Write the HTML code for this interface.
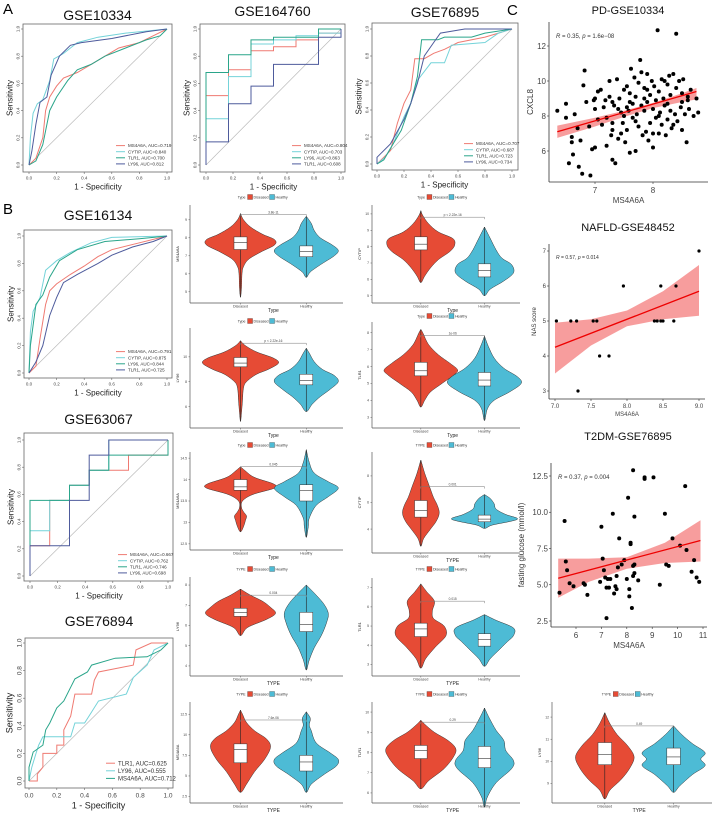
<!DOCTYPE html>
<html><head><meta charset="utf-8">
<style>
html,body{margin:0;padding:0;background:#fff;}
svg{display:block;font-family:"Liberation Sans",Arial,sans-serif;}
</style></head>
<body>
<svg id="fig" width="719" height="818" viewBox="0 0 719 818" xmlns="http://www.w3.org/2000/svg">
<text x="3" y="14" font-size="15">A</text>
<text x="3" y="214" font-size="15">B</text>
<text x="507" y="15" font-size="15">C</text>
</svg>
<script>
// ===== ROC data ([fpr, tpr] pairs) =====
const roc10334_MS4A6A=[[0,0],[0.02,0.02],[0.05,0.05],[0.1,0.2],[0.12,0.4],[0.15,0.5],[0.2,0.58],[0.25,0.64],[0.35,0.68],[0.45,0.74],[0.55,0.8],[0.65,0.86],[0.8,0.9],[0.9,0.95],[1,1]];
const roc10334_CYTIP=[[0,0],[0.01,0.2],[0.03,0.38],[0.06,0.45],[0.1,0.48],[0.15,0.62],[0.18,0.78],[0.25,0.82],[0.35,0.9],[0.5,0.94],[0.7,0.97],[1,1]];
const roc10334_TLR1=[[0,0],[0.05,0.03],[0.1,0.15],[0.15,0.4],[0.2,0.5],[0.28,0.62],[0.35,0.7],[0.45,0.74],[0.55,0.8],[0.7,0.86],[0.85,0.92],[0.95,0.95],[1,1]];
const roc10334_LY96=[[0,0],[0.02,0.1],[0.05,0.3],[0.08,0.46],[0.13,0.5],[0.16,0.66],[0.22,0.8],[0.3,0.88],[0.38,0.9],[0.6,0.93],[0.85,0.98],[1,1]];
const roc164760_MS4A6A=[[0,0],[0,0.51],[0.167,0.51],[0.167,0.7],[0.333,0.7],[0.333,0.84],[0.5,0.84],[0.5,0.87],[0.667,0.87],[0.667,0.92],[0.833,0.92],[0.833,0.97],[1,0.97],[1,1]];
const roc164760_CYTIP=[[0,0],[0,0.34],[0.167,0.34],[0.167,0.65],[0.333,0.65],[0.333,0.89],[0.5,0.89],[0.5,0.92],[0.667,0.92],[0.667,0.95],[0.833,0.95],[0.833,0.97],[1,0.97],[1,1]];
const roc164760_LY96=[[0,0],[0,0.68],[0.167,0.68],[0.167,0.81],[0.333,0.81],[0.333,0.92],[0.5,0.92],[0.5,0.94],[0.833,0.94],[0.833,1],[1,1]];
const roc164760_TLR1=[[0,0],[0,0.17],[0.167,0.17],[0.167,0.45],[0.333,0.45],[0.333,0.58],[0.5,0.58],[0.5,0.74],[0.833,0.74],[0.833,0.94],[1,0.94],[1,1]];
const roc76895_MS4A6A=[[0,0],[0.05,0.05],[0.1,0.1],[0.15,0.3],[0.2,0.45],[0.25,0.55],[0.28,0.78],[0.35,0.78],[0.42,0.82],[0.5,0.85],[0.6,0.9],[0.8,0.94],[0.9,0.97],[1,1]];
const roc76895_CYTIP=[[0,0],[0.06,0.05],[0.12,0.15],[0.2,0.35],[0.25,0.45],[0.3,0.62],[0.4,0.75],[0.5,0.75],[0.55,0.88],[0.8,0.9],[0.9,0.97],[1,1]];
const roc76895_TLR1=[[0,0],[0.05,0.03],[0.12,0.15],[0.18,0.25],[0.25,0.45],[0.3,0.65],[0.33,0.92],[0.45,0.92],[0.5,0.94],[0.7,0.94],[0.8,0.97],[1,1]];
const roc76895_LY96=[[0,0],[0,0.05],[0.1,0.15],[0.2,0.33],[0.25,0.45],[0.3,0.6],[0.35,0.8],[0.42,0.9],[0.47,0.97],[0.65,1],[1,1]];
const roc16134_MS4A6A=[[0,0],[0.05,0.05],[0.08,0.25],[0.12,0.5],[0.15,0.6],[0.2,0.65],[0.3,0.72],[0.4,0.78],[0.5,0.85],[0.6,0.9],[0.8,0.95],[1,1]];
const roc16134_CYTIP=[[0,0],[0.01,0.3],[0.03,0.45],[0.08,0.55],[0.12,0.75],[0.2,0.82],[0.3,0.88],[0.45,0.95],[0.6,0.99],[1,1]];
const roc16134_LY96=[[0,0],[0.01,0.2],[0.05,0.5],[0.1,0.57],[0.15,0.7],[0.22,0.82],[0.35,0.9],[0.55,0.96],[0.8,0.98],[1,1]];
const roc16134_TLR1=[[0,0],[0.05,0.08],[0.1,0.2],[0.15,0.42],[0.2,0.55],[0.25,0.66],[0.35,0.72],[0.5,0.8],[0.6,0.86],[0.75,0.92],[0.9,0.96],[1,1]];
const roc63067_MS4A6A=[[0,0],[0,0.222],[0.143,0.222],[0.143,0.556],[0.286,0.556],[0.286,0.667],[0.429,0.667],[0.429,0.778],[0.714,0.778],[0.714,0.889],[1,0.889],[1,1]];
const roc63067_CYTIP=[[0,0],[0,0.333],[0.143,0.333],[0.143,0.556],[0.286,0.556],[0.286,0.667],[0.429,0.667],[0.429,0.778],[0.571,0.778],[0.571,1],[1,1]];
const roc63067_TLR1=[[0,0],[0,0.556],[0.286,0.556],[0.286,0.667],[0.429,0.667],[0.429,0.778],[0.571,0.778],[0.571,0.889],[1,0.889],[1,1]];
const roc63067_LY96=[[0,0],[0,0.222],[0.286,0.222],[0.286,0.556],[0.429,0.556],[0.429,0.889],[0.571,0.889],[0.571,1],[1,1]];
const roc76894_TLR1=[[0,0],[0.06,0],[0.06,0.05],[0.1,0.1],[0.1,0.2],[0.2,0.2],[0.2,0.26],[0.25,0.26],[0.25,0.37],[0.3,0.47],[0.33,0.63],[0.45,0.63],[0.47,0.73],[0.5,0.79],[0.75,0.84],[0.77,0.95],[0.88,1],[1,1]];
const roc76894_LY96=[[0,0],[0.02,0.1],[0.05,0.2],[0.07,0.26],[0.1,0.32],[0.3,0.32],[0.33,0.42],[0.4,0.42],[0.45,0.5],[0.5,0.58],[0.7,0.63],[0.75,0.75],[0.85,0.84],[0.9,0.95],[1,1]];
const roc76894_MS4A6A=[[0,0],[0,0.1],[0.03,0.21],[0.1,0.26],[0.12,0.37],[0.15,0.42],[0.2,0.53],[0.25,0.58],[0.3,0.68],[0.33,0.74],[0.42,0.79],[0.45,0.84],[0.62,0.89],[0.85,0.9],[0.95,0.95],[1,1]];
const rocTicks=[0,0.2,0.4,0.6,0.8,1.0];
const rocTickLabels=["0.0","0.2","0.4","0.6","0.8","1.0"];

// ===== Violin data: knots [value, halfwidth], box [wlo,q1,med,q3,whi] =====
const v1D=[[4.7,0],[5.2,1],[6.0,1.5],[6.4,3],[6.8,8],[7.2,20],[7.6,34],[7.9,34],[8.2,22],[8.6,10],[9.0,3],[9.35,0]];
const v1Dbox=[6.4,7.35,7.75,8.05,9.2];
const v1H=[[5.8,0],[6.1,4],[6.5,14],[7.0,28],[7.3,32],[7.6,26],[8.0,14],[8.4,8],[8.8,5],[9.2,0]];
const v1Hbox=[6.0,6.95,7.25,7.55,9.0];
const v2D=[[5.8,0],[6.2,4],[6.7,10],[7.2,18],[7.7,30],[8.1,35],[8.5,33],[8.9,18],[9.4,8],[9.9,2],[10.2,0]];
const v2Dbox=[6.1,7.8,8.15,8.6,9.9];
const v2H=[[5.0,0],[5.4,6],[5.9,20],[6.4,30],[6.9,28],[7.3,18],[7.8,12],[8.5,6],[9.2,0]];
const v2Hbox=[5.6,6.15,6.55,6.95,8.6];
const v3D=[[4.8,0],[5.5,1],[6.5,2],[7.5,3],[8.0,6],[8.6,16],[9.0,28],[9.5,38],[9.9,33],[10.4,16],[10.9,5],[11.3,0]];
const v3Dbox=[7.6,9.2,9.5,9.95,11.0];
const v3H=[[5.6,0],[6.2,6],[6.8,14],[7.4,24],[8.0,32],[8.5,28],[9.0,16],[9.6,8],[10.3,3],[10.7,0]];
const v3Hbox=[6.4,7.75,8.1,8.6,10.3];
const v4D=[[3.6,0],[4.0,4],[4.5,10],[5.0,22],[5.5,34],[5.8,38],[6.2,30],[6.7,18],[7.3,8],[8.0,2],[8.2,0]];
const v4Dbox=[4.4,5.45,5.75,6.25,7.8];
const v4H=[[2.8,0],[3.5,3],[4.0,10],[4.5,26],[5.0,38],[5.4,34],[5.9,20],[6.5,10],[7.2,4],[7.8,0]];
const v4Hbox=[3.6,4.85,5.2,5.65,7.2];
const v5D=[[12.78,0],[12.9,3],[13.05,5],[13.15,6],[13.25,3],[13.35,1],[13.5,2],[13.65,12],[13.8,34],[13.9,33],[14.05,14],[14.2,5],[14.3,0]];
const v5Dbox=[13.6,13.75,13.83,14.0,14.2];
const v5H=[[12.65,0],[12.9,2],[13.1,3],[13.4,10],[13.6,22],[13.8,32],[13.95,22],[14.15,8],[14.4,3],[14.7,0]];
const v5Hbox=[13.2,13.5,13.75,13.88,14.3];
const v6D=[[2.7,0],[3.3,3],[4.0,10],[4.6,16],[5.2,19],[5.8,17],[6.4,13],[7.2,9],[8.2,4],[9.2,0]];
const v6Dbox=[4.3,4.9,5.4,6.15,7.6];
const v6H=[[4.05,0],[4.3,8],[4.6,28],[4.8,34],[5.1,22],[5.5,12],[5.9,10],[6.3,6],[6.6,0]];
const v6Hbox=[4.1,4.55,4.75,5.05,6.0];
const v7D=[[5.5,0],[5.9,7],[6.3,26],[6.6,35],[6.9,30],[7.2,22],[7.5,10],[7.8,0]];
const v7Dbox=[5.9,6.45,6.65,6.85,7.5];
const v7H=[[3.8,0],[4.3,3],[4.9,8],[5.5,15],[6.1,20],[6.6,22],[7.1,17],[7.6,8],[8.0,0]];
const v7Hbox=[5.0,5.7,6.05,6.65,6.9];
const v8D=[[2.8,0],[3.3,5],[3.9,15],[4.5,26],[5.0,24],[5.4,13],[5.8,12],[6.3,14],[6.8,6],[7.2,0]];
const v8Dbox=[3.7,4.45,4.85,5.15,6.3];
const v8H=[[2.9,0],[3.3,6],[3.8,16],[4.2,24],[4.5,30],[4.9,30],[5.3,12],[5.6,0]];
const v8Hbox=[3.7,3.95,4.3,4.6,4.85];
const v9D=[[3.0,0],[4.0,6],[5.5,14],[7.0,24],[8.5,30],[9.5,26],[10.5,14],[11.5,6],[12.5,2],[13.0,0]];
const v9Dbox=[4.2,6.6,8.2,8.9,12.2];
const v9H=[[3.0,0],[4.0,5],[5.2,18],[6.2,30],[7.0,32],[7.8,24],[9.0,10],[10.5,5],[11.2,3],[12.0,4],[12.8,0]];
const v9Hbox=[4.5,5.6,6.7,7.5,12.5];
const v10D=[[6.2,0],[6.6,8],[7.2,24],[7.8,34],[8.2,36],[8.6,28],[9.0,14],[9.4,4],[9.6,0]];
const v10Dbox=[6.9,7.7,8.1,8.35,8.9];
const v10H=[[5.3,0],[5.8,3],[6.5,12],[7.2,28],[7.6,30],[8.1,22],[8.6,20],[9.1,12],[9.7,5],[10.2,0]];
const v10Hbox=[6.1,7.25,7.7,8.3,9.4];
const v11D=[[8.3,0],[8.7,5],[9.2,16],[9.7,24],[10.2,28],[10.7,22],[11.2,12],[11.7,5],[12.2,0]];
const v11Dbox=[8.9,9.85,10.3,10.85,11.6];
const v11H=[[8.6,0],[8.9,6],[9.4,18],[9.8,30],[10.1,26],[10.4,30],[10.8,18],[11.2,8],[11.6,0]];
const v11Hbox=[9.0,9.85,10.2,10.6,11.4];

// ===== Scatter data =====
const pdPoints=[[6.35,8.3],[6.5,8.7],[6.5,7.9],[6.55,5.3],[6.6,6.8],[6.6,6.5],[6.62,5.8],[6.65,8.1],[6.72,5.1],[6.75,6.6],[6.78,4.7],[6.8,9.75],[6.82,10.6],[6.85,8.8],[6.9,7.4],[6.92,4.6],[6.95,6.1],[6.98,8.9],[7.0,9.0],[7.0,6.2],[7.05,7.8],[7.05,9.4],[7.1,9.5],[7.12,7.5],[7.15,8.5],[7.18,8.9],[7.2,7.9],[7.2,6.3],[7.25,10.0],[7.25,9.1],[7.28,6.9],[7.3,5.5],[7.3,7.2],[7.33,8.6],[7.35,5.3],[7.38,10.1],[7.4,8.4],[7.4,6.7],[7.42,9.0],[7.45,8.2],[7.48,7.6],[7.5,9.5],[7.5,8.0],[7.52,6.5],[7.55,9.7],[7.55,7.2],[7.58,8.3],[7.6,9.3],[7.6,5.9],[7.62,10.7],[7.65,7.9],[7.65,8.7],[7.68,10.2],[7.7,6.0],[7.7,9.1],[7.72,8.1],[7.75,9.9],[7.75,7.4],[7.78,11.2],[7.8,8.6],[7.8,10.5],[7.82,6.9],[7.85,9.6],[7.85,8.3],[7.88,7.1],[7.9,10.4],[7.9,8.8],[7.92,6.6],[7.95,9.2],[7.95,7.6],[7.98,10.0],[8.0,8.4],[8.0,6.2],[8.02,9.7],[8.05,7.9],[8.05,8.9],[8.08,12.9],[8.1,7.0],[8.1,9.4],[8.12,8.2],[8.15,10.1],[8.15,7.5],[8.18,9.0],[8.2,8.6],[8.22,6.9],[8.25,9.8],[8.25,7.8],[8.28,10.3],[8.3,8.3],[8.3,9.2],[8.32,7.3],[8.35,10.4],[8.38,8.1],[8.4,12.7],[8.4,9.6],[8.42,7.7],[8.45,10.0],[8.48,8.5],[8.5,9.3],[8.5,7.2],[8.52,10.1],[8.55,8.1],[8.58,6.5],[8.6,9.1],[8.62,8.4],[8.65,9.5],[8.7,8.0],[8.75,9.0],[8.78,8.2],[8.5,8.8],[8.2,10.0],[7.9,9.5],[7.6,8.8],[7.3,8.8],[7.0,8.4],[6.7,7.3],[8.0,7.0],[8.35,7.5],[7.45,7.0],[7.7,7.7],[8.1,8.0],[7.85,9.0],[8.6,8.9],[7.3,7.6],[7.55,8.5],[8.25,8.7]];
const pdFitX=[6.35,8.75], pdFitY=[7.1,9.4];
const pdBandX=[6.35,7,7.5,8,8.5,8.75], pdBandLo=[6.75,7.4,7.95,8.45,8.8,8.95], pdBandHi=[7.45,7.9,8.3,8.75,9.3,9.6];
const pdXTicks=[7,8], pdYTicks=[6,8,10,12];
const naPoints=[[7.02,5],[7.22,5],[7.3,5],[7.53,5],[7.58,5],[7.62,4],[7.75,4],[7.32,3],[7.95,6],[8.38,5],[8.42,5],[8.47,5],[8.5,5],[8.47,6],[8.65,5],[8.68,6],[9.0,7]];
const naFitX=[7.0,9.0], naFitY=[4.25,5.85];
const naBandX=[7.0,7.5,8.0,8.5,9.0], naBandLo=[3.5,4.3,4.85,5.05,5.15], naBandHi=[4.95,5.05,5.3,5.85,6.6];
const naXTicks=[7.0,7.5,8.0,8.5,9.0], naYTicks=[3,4,5,6,7];
const t2Points=[[5.35,4.45],[5.55,9.4],[5.6,6.6],[5.65,6.0],[5.75,5.1],[5.9,4.9],[6.3,5.1],[6.35,5.0],[6.45,4.3],[7.0,9.0],[7.05,6.8],[7.1,6.0],[6.95,5.2],[7.15,5.5],[7.2,4.8],[7.25,5.4],[7.3,4.8],[7.35,5.4],[7.45,9.9],[7.5,4.4],[7.55,4.9],[7.6,4.7],[7.7,8.2],[7.65,6.2],[7.6,5.6],[7.8,6.4],[7.9,6.7],[8.0,5.4],[8.05,11.0],[8.1,4.2],[8.1,4.7],[8.15,7.9],[8.15,7.8],[8.2,3.4],[8.25,5.6],[8.25,6.3],[8.3,5.8],[8.25,12.9],[8.3,9.7],[8.3,6.4],[8.45,5.3],[8.7,12.4],[8.7,12.3],[9.05,12.4],[7.2,2.7],[9.3,5.0],[9.55,6.4],[9.65,6.3],[9.5,9.9],[9.8,8.2],[10.1,7.7],[10.3,11.8],[10.35,7.4],[10.55,5.9],[10.65,6.7],[10.75,5.5],[10.85,5.2]];
const t2FitX=[5.3,10.9], t2FitY=[5.45,8.05];
const t2BandX=[5.3,6.5,8,9.5,10.9], t2BandLo=[4.1,5.2,6.1,6.5,6.6], t2BandHi=[6.8,6.8,6.9,7.9,9.45];
const t2XTicks=[6,7,8,9,10,11], t2YTicks=[2.5,5.0,7.5,10.0,12.5];

const NS="http://www.w3.org/2000/svg";
const svg=document.getElementById('fig');
function mk(tag,attrs,parent){const e=document.createElementNS(NS,tag);for(const k in attrs)e.setAttribute(k,attrs[k]);(parent||svg).appendChild(e);return e;}
function txt(x,y,s,size,opts,parent){const e=mk('text',Object.assign({x:x,y:y,'font-size':size,fill:'#222'},opts||{}),parent);e.textContent=s;return e;}
const RED="#e64b35", CYAN="#4dbbd5";
const cMS="#ef7a72", cCY="#74d3d9", cGR="#2aa58a", cNV="#4e5b9c";

// ---------- ROC ----------
function roc(c){
  const g=mk('g',{});
  
  
  const sx=v=>c.px0+v*(c.px1-c.px0), sy=v=>c.py0+v*(c.py1-c.py0);
  const t=txt((c.bx0+c.bx1)/2,c.ty,c.title,c.tsize||14,{'text-anchor':'middle',fill:'#111'},g);
  
  
  const fr=mk('rect',{x:c.bx0,y:c.by0,width:c.bx1-c.bx0,height:c.by1-c.by0,fill:'none',stroke:'#666','stroke-width':0.8},g);
  
  
  mk('line',{x1:sx(0),y1:sy(0),x2:sx(1),y2:sy(1),stroke:'#bbb','stroke-width':0.7},g);
  const fs=c.fs||4.5;
  rocTicks.forEach((v,i)=>{
    mk('line',{x1:sx(v),x2:sx(v),y1:c.by1,y2:c.by1+2,stroke:'#666','stroke-width':0.6},g);
    txt(sx(v),c.by1+3+fs,rocTickLabels[i],fs,{'text-anchor':'middle',fill:'#444'},g);
    mk('line',{x1:c.bx0,x2:c.bx0-2,y1:sy(v),y2:sy(v),stroke:'#666','stroke-width':0.6},g);
    txt(0,0,rocTickLabels[i],fs,{'text-anchor':'middle',fill:'#444',transform:`translate(${c.bx0-3.5},${sy(v)}) rotate(-90)`},g);
  });
  const xl=txt((sx(0)+sx(1))/2,c.by1+5+fs+(c.axs||8),'1 -  Specificity',c.axs||8,{'text-anchor':'middle'},g);
  
  
  const yl=txt(0,0,'Sensitivity',c.axs||8,{'text-anchor':'middle',transform:`translate(${c.bx0-6-fs},${(c.by0+c.by1)/2}) rotate(-90)`},g);
  
  
  const lf=c.lfs||4.5, lh=lf+1.6;
  c.curves.forEach((cv,i)=>{
    const d=cv.pts.map((p,j)=>(j?'L':'M')+sx(p[0]).toFixed(1)+','+sy(p[1]).toFixed(1)).join('');
    const p=mk('path',{d:d,fill:'none',stroke:cv.col,'stroke-width':1},g);
    
    
    const ly=c.by1-(c.curves.length-i)*lh-2;
    mk('line',{x1:c.lx,x2:c.lx+9,y1:ly,y2:ly,stroke:cv.col,'stroke-width':1},g);
    const lt=txt(c.lx+12,ly+lf*0.35,cv.gene+', AUC='+cv.auc,lf,{fill:'#333'},g);
    
    
  });
}
roc({name:'roc-gse10334',title:'GSE10334',ty:20,bx0:23,bx1:172,by0:24,by1:172,px0:29,px1:167,py0:165,py1:29,lx:116,
  curves:[{gene:'MS4A6A',auc:'0.719',col:cMS,pts:roc10334_MS4A6A},{gene:'CYTIP',auc:'0.840',col:cCY,pts:roc10334_CYTIP},{gene:'TLR1',auc:'0.700',col:cGR,pts:roc10334_TLR1},{gene:'LY96',auc:'0.812',col:cNV,pts:roc10334_LY96}]});
roc({name:'roc-gse164760',title:'GSE164760',ty:16,bx0:200,bx1:345,by0:24,by1:172,px0:206,px1:341,py0:165,py1:29,lx:292,
  curves:[{gene:'MS4A6A',auc:'0.804',col:cMS,pts:roc164760_MS4A6A},{gene:'CYTIP',auc:'0.703',col:cCY,pts:roc164760_CYTIP},{gene:'LY96',auc:'0.863',col:cGR,pts:roc164760_LY96},{gene:'TLR1',auc:'0.608',col:cNV,pts:roc164760_TLR1}]});
roc({name:'roc-gse76895',title:'GSE76895',ty:17,bx0:372,bx1:518,by0:23,by1:170,px0:377,px1:512,py0:164,py1:29,lx:464,
  curves:[{gene:'MS4A6A',auc:'0.707',col:cMS,pts:roc76895_MS4A6A},{gene:'CYTIP',auc:'0.687',col:cCY,pts:roc76895_CYTIP},{gene:'TLR1',auc:'0.723',col:cGR,pts:roc76895_TLR1},{gene:'LY96',auc:'0.734',col:cNV,pts:roc76895_LY96}]});
roc({name:'roc-gse16134',title:'GSE16134',ty:220,bx0:24,bx1:172,by0:230,by1:378,px0:29,px1:167,py0:373,py1:236,lx:116,
  curves:[{gene:'MS4A6A',auc:'0.791',col:cMS,pts:roc16134_MS4A6A},{gene:'CYTIP',auc:'0.875',col:cCY,pts:roc16134_CYTIP},{gene:'LY96',auc:'0.844',col:cGR,pts:roc16134_LY96},{gene:'TLR1',auc:'0.725',col:cNV,pts:roc16134_TLR1}]});
roc({name:'roc-gse63067',title:'GSE63067',ty:424,bx0:24,bx1:173,by0:433,by1:581,px0:30,px1:168,py0:576,py1:440,lx:118,
  curves:[{gene:'MS4A6A',auc:'0.667',col:cMS,pts:roc63067_MS4A6A},{gene:'CYTIP',auc:'0.762',col:cCY,pts:roc63067_CYTIP},{gene:'TLR1',auc:'0.746',col:cGR,pts:roc63067_TLR1},{gene:'LY96',auc:'0.698',col:cNV,pts:roc63067_LY96}]});
roc({name:'roc-gse76894',title:'GSE76894',ty:626,bx0:25,bx1:173,by0:638,by1:788,px0:29,px1:168,py0:781,py1:643,lx:106,fs:6.5,axs:9,lfs:6,
  curves:[{gene:'TLR1',auc:'0.625',col:cMS,pts:roc76894_TLR1},{gene:'LY96',auc:'0.555',col:cCY,pts:roc76894_LY96},{gene:'MS4A6A',auc:'0.712',col:cGR,pts:roc76894_MS4A6A}]});

// ---------- Violins ----------
function smoothPath(pts){
  let d='';
  for(let i=0;i<pts.length;i++){
    const p=pts[i];
    if(i===0){d+='M'+p[0].toFixed(1)+','+p[1].toFixed(1);continue;}
    const p0=pts[Math.max(0,i-2)],p1=pts[i-1],p2=p,p3=pts[Math.min(pts.length-1,i+1)];
    const c1=[p1[0]+(p2[0]-p0[0])/6,p1[1]+(p2[1]-p0[1])/6];
    const c2=[p2[0]-(p3[0]-p1[0])/6,p2[1]-(p3[1]-p1[1])/6];
    d+='C'+c1.map(v=>v.toFixed(1)).join(',')+' '+c2.map(v=>v.toFixed(1)).join(',')+' '+p2[0].toFixed(1)+','+p2[1].toFixed(1);
  }
  return d;
}
function violinPanel(c){
  const g=mk('g',{});
  
  
  const W=c.x1-c.x0;
  const sy=v=>c.y1-4-(v-c.lo)/(c.hi-c.lo)*(c.y1-c.y0-8);
  const cx=[c.x0+0.33*W,c.x0+0.76*W];
  const scale=W/153;
  // legend
  const lc=c.x0+W*0.52;
  const lg=mk('g',{},g);
  
  
  txt(lc-24,c.ly+1.5,c.tt,3.6,{'text-anchor':'end',fill:'#333'},lg);
  mk('rect',{x:lc-22,y:c.ly-2.5,width:5,height:5,fill:RED,stroke:'#333','stroke-width':0.3},lg);
  txt(lc-16,c.ly+1.5,'Diseased',3.6,{fill:'#333'},lg);
  mk('rect',{x:lc,y:c.ly-2.5,width:5,height:5,fill:CYAN,stroke:'#333','stroke-width':0.3},lg);
  txt(lc+6,c.ly+1.5,'Healthy',3.6,{fill:'#333'},lg);
  // axes
  mk('line',{x1:c.x0,x2:c.x0,y1:c.y0,y2:c.y1,stroke:'#555','stroke-width':0.7},g);
  mk('line',{x1:c.x0,x2:c.x1,y1:c.y1,y2:c.y1,stroke:'#555','stroke-width':0.7},g);
  c.ticks.forEach(v=>{
    mk('line',{x1:c.x0-1.5,x2:c.x0,y1:sy(v),y2:sy(v),stroke:'#555','stroke-width':0.5},g);
    txt(c.x0-3,sy(v)+1.2,String(v),3.4,{'text-anchor':'end',fill:'#444'},g);
  });
  const yl=txt(0,0,c.ylab,4,{'text-anchor':'middle',transform:`translate(${c.x0-11},${(c.y0+c.y1)/2}) rotate(-90)`},g);
  
  
  ['Diseased','Healthy'].forEach((s,i)=>{
    mk('line',{x1:cx[i],x2:cx[i],y1:c.y1,y2:c.y1+1.5,stroke:'#555','stroke-width':0.5},g);
    txt(cx[i],c.y1+4.5,s,3.6,{'text-anchor':'middle',fill:'#444'},g);
  });
  txt((cx[0]+cx[1])/2,c.y1+9,c.tt,5,{'text-anchor':'middle',fill:'#222'},g);
  // violins
  [[c.D,c.Dbox,RED,'diseased'],[c.H,c.Hbox,CYAN,'healthy']].forEach((grp,i)=>{
    const k=grp[0],b=grp[1],x=cx[i];
    const right=k.slice().reverse().map(p=>[x+p[1]*scale,sy(p[0])]);
    const left=k.map(p=>[x-p[1]*scale,sy(p[0])]);
    const pts=right.concat(left.slice(1));
    const v=mk('path',{d:smoothPath(pts)+'Z',fill:grp[2],stroke:'#333','stroke-width':0.5},g);
    
    
    mk('line',{x1:x,x2:x,y1:sy(k[0][0]),y2:sy(k[k.length-1][0]),stroke:'#222','stroke-width':0.6},g);
    const bw=6.5*scale;
    const bx=mk('rect',{x:x-bw,y:sy(b[3]),width:2*bw,height:sy(b[1])-sy(b[3]),fill:'#fff',stroke:'#333','stroke-width':0.5},g);
    
    
    mk('line',{x1:x-bw,x2:x+bw,y1:sy(b[2]),y2:sy(b[2]),stroke:'#333','stroke-width':0.6},g);
  });
  // p bracket
  const top=Math.min(sy(c.D[c.D.length-1][0]),sy(c.H[c.H.length-1][0]));
  const by=c.py!==undefined?sy(c.py):top+3;
  mk('path',{d:`M${cx[0]},${by+2}V${by}H${cx[1]}V${by+2}`,fill:'none',stroke:'#777','stroke-width':0.5},g);
  txt((cx[0]+cx[1])/2,by-1,c.p,3.2,{'text-anchor':'middle',fill:'#444'},g);
}
const MX0=190,MX1=343,RX0=372,RX1=520,FX0=552,FX1=712;
violinPanel({name:'violin-ms4a6a-gse16134',x0:MX0,x1:MX1,y0:205,y1:303,ly:197,lo:4.6,hi:9.6,ticks:[5,6,7,8,9],ylab:'MS4A6A',tt:'Type',D:v1D,Dbox:v1Dbox,H:v1H,Hbox:v1Hbox,p:'3.8e-11',py:9.3});
violinPanel({name:'violin-cytip-gse16134',x0:RX0,x1:RX1,y0:205,y1:303,ly:197,lo:4.8,hi:10.3,ticks:[5,6,7,8,9,10],ylab:'CYTIP',tt:'Type',D:v2D,Dbox:v2Dbox,H:v2H,Hbox:v2Hbox,p:'p < 2.22e-16',py:9.8});
violinPanel({name:'violin-ly96-gse16134',x0:MX0,x1:MX1,y0:328,y1:428,ly:321,lo:4.6,hi:12,ticks:[6,8,10],ylab:'LY96',tt:'Type',D:v3D,Dbox:v3Dbox,H:v3H,Hbox:v3Hbox,p:'p < 2.22e-16',py:11.1});
violinPanel({name:'violin-tlr1-gse16134',x0:RX0,x1:RX1,y0:322,y1:428,ly:316,lo:2.6,hi:8.4,ticks:[3,4,5,6,7,8],ylab:'TLR1',tt:'Type',D:v4D,Dbox:v4Dbox,H:v4H,Hbox:v4Hbox,p:'1e-06',py:7.85});
violinPanel({name:'violin-ms4a6a-gse63067',x0:MX0,x1:MX1,y0:452,y1:550,ly:445,lo:12.45,hi:14.55,ticks:[12.5,13,13.5,14,14.5],ylab:'MS4A6A',tt:'Type',D:v5D,Dbox:v5Dbox,H:v5H,Hbox:v5Hbox,p:'0.045',py:14.3});
violinPanel({name:'violin-cytip-gse63067',x0:RX0,x1:RX1,y0:452,y1:553,ly:445,lo:2.5,hi:9.5,ticks:[4,6,8],ylab:'CYTIP',tt:'TYPE',D:v6D,Dbox:v6Dbox,H:v6H,Hbox:v6Hbox,p:'0.001',py:7.2});
violinPanel({name:'violin-ly96-gse63067',x0:MX0,x1:MX1,y0:577,y1:676,ly:569,lo:3.7,hi:8.2,ticks:[4,5,6,7,8],ylab:'LY96',tt:'TYPE',D:v7D,Dbox:v7Dbox,H:v7H,Hbox:v7Hbox,p:'0.004',py:7.5});
violinPanel({name:'violin-tlr1-gse63067',x0:RX0,x1:RX1,y0:578,y1:676,ly:569,lo:2.6,hi:7.3,ticks:[3,4,5,6,7],ylab:'TLR1',tt:'TYPE',D:v8D,Dbox:v8Dbox,H:v8H,Hbox:v8Hbox,p:'0.015',py:6.3});
violinPanel({name:'violin-ms4a6a-gse76894',x0:MX0,x1:MX1,y0:702,y1:803,ly:694,lo:2.2,hi:13.5,ticks:[2.5,5,7.5,10,12.5],ylab:'MS4A6A',tt:'TYPE',D:v9D,Dbox:v9Dbox,H:v9H,Hbox:v9Hbox,p:'7.6e-06',py:11.8});
violinPanel({name:'violin-tlr1-gse76894',x0:RX0,x1:RX1,y0:702,y1:803,ly:694,lo:5.7,hi:10.3,ticks:[6,7,8,9,10],ylab:'TLR1',tt:'TYPE',D:v10D,Dbox:v10Dbox,H:v10H,Hbox:v10Hbox,p:'0.29',py:9.5});
violinPanel({name:'violin-ly96-gse76894',x0:FX0,x1:FX1,y0:702,y1:803,ly:694,lo:8.3,hi:12.5,ticks:[9,10,11,12],ylab:'LY96',tt:'TYPE',D:v11D,Dbox:v11Dbox,H:v11H,Hbox:v11Hbox,p:'0.49',py:11.6});

// ---------- Scatter ----------
function scatter(c){
  const g=mk('g',{});
  
  
  const sx=v=>c.ax+(v-c.xa)*c.kx, sy=v=>c.ay+(v-c.ya)*c.ky;
  const t=txt(c.tx,c.ty,c.title,11,{'text-anchor':'middle',fill:'#111'},g);
  
  
  // band
  const up=c.bx.map((x,i)=>sx(x).toFixed(1)+','+sy(c.bhi[i]).toFixed(1));
  const dn=c.bx.map((x,i)=>sx(x).toFixed(1)+','+sy(c.blo[i]).toFixed(1)).reverse();
  const band=mk('polygon',{points:up.concat(dn).join(' '),fill:'#f47c7c','fill-opacity':0.75},g);
  
  
  c.pts.forEach(p=>{
    const d=mk('circle',{cx:sx(p[0]).toFixed(1),cy:sy(p[1]).toFixed(1),r:c.r||2,fill:'#000'},g);
    
    
  });
  const fl=mk('line',{x1:sx(c.fx[0]),y1:sy(c.fy[0]),x2:sx(c.fx[1]),y2:sy(c.fy[1]),stroke:'#e00','stroke-width':1.3},g);
  
  
  mk('line',{x1:c.x0,x2:c.x0,y1:c.y0,y2:c.y1,stroke:'#333','stroke-width':0.8},g);
  mk('line',{x1:c.x0,x2:c.x1,y1:c.y1,y2:c.y1,stroke:'#333','stroke-width':0.8},g);
  c.xt.forEach(v=>{
    mk('line',{x1:sx(v),x2:sx(v),y1:c.y1,y2:c.y1+2,stroke:'#333','stroke-width':0.6},g);
    txt(sx(v),c.y1+3+c.fs,c.xtf?v.toFixed(1):String(v),c.fs,{'text-anchor':'middle',fill:'#444'},g);
  });
  c.yt.forEach(v=>{
    mk('line',{x1:c.x0-2,x2:c.x0,y1:sy(v),y2:sy(v),stroke:'#333','stroke-width':0.6},g);
    txt(c.x0-3,sy(v)+c.fs*0.35,c.ytf?v.toFixed(1):String(v),c.fs,{'text-anchor':'end',fill:'#444'},g);
  });
  const xl=txt((c.x0+c.x1)/2,c.y1+5+c.fs+c.as,'MS4A6A',c.as,{'text-anchor':'middle',fill:'#444'},g);
  
  
  const yl=txt(0,0,c.ylab,c.as,{'text-anchor':'middle',fill:'#333',transform:`translate(${c.ylx},${(c.y0+c.y1)/2}) rotate(-90)`},g);
  
  
  const st=mk('text',{x:c.x0+7,y:c.sty,'font-size':c.ss,fill:'#333'},g);
  st.innerHTML='<tspan font-style="italic">R</tspan> = '+c.R+', <tspan font-style="italic">p</tspan> = '+c.p;
  
  
}
scatter({name:'scatter-pd-gse10334',title:'PD-GSE10334',tx:628,ty:14,x0:549,x1:708,y0:22,y1:182,ax:595,xa:7,kx:58,ay:151,ya:6,ky:-17.5,
  pts:pdPoints,fx:pdFitX,fy:pdFitY,bx:pdBandX,blo:pdBandLo,bhi:pdBandHi,xt:pdXTicks,yt:pdYTicks,fs:8,as:8,ylab:'CXCL8',ylx:533,R:'0.35',p:'1.6e\u221208',sty:38,ss:6,r:2});
scatter({name:'scatter-nafld-gse48452',title:'NAFLD-GSE48452',tx:628,ty:231,x0:549,x1:705,y0:244,y1:399,ax:555,xa:7,kx:72,ay:251,ya:7,ky:-35,
  pts:naPoints,fx:naFitX,fy:naFitY,bx:naBandX,blo:naBandLo,bhi:naBandHi,xt:naXTicks,yt:naYTicks,fs:6,as:6,ylab:'NAS score',ylx:536,R:'0.57',p:'0.014',sty:259,ss:5,r:1.6,xtf:true});
scatter({name:'scatter-t2dm-gse76895',title:'T2DM-GSE76895',tx:628,ty:440,x0:551,x1:707,y0:463,y1:627,ax:576,xa:6,kx:25.4,ay:476,ya:12.5,ky:-14.5,
  pts:t2Points,fx:t2FitX,fy:t2FitY,bx:t2BandX,blo:t2BandLo,bhi:t2BandHi,xt:t2XTicks,yt:t2YTicks,fs:8,as:8,ylab:'fasting glucose (mmol/l)',ylx:524,R:'0.37',p:'0.004',sty:479,ss:6,r:2,ytf:true});
</script>
</body></html>
